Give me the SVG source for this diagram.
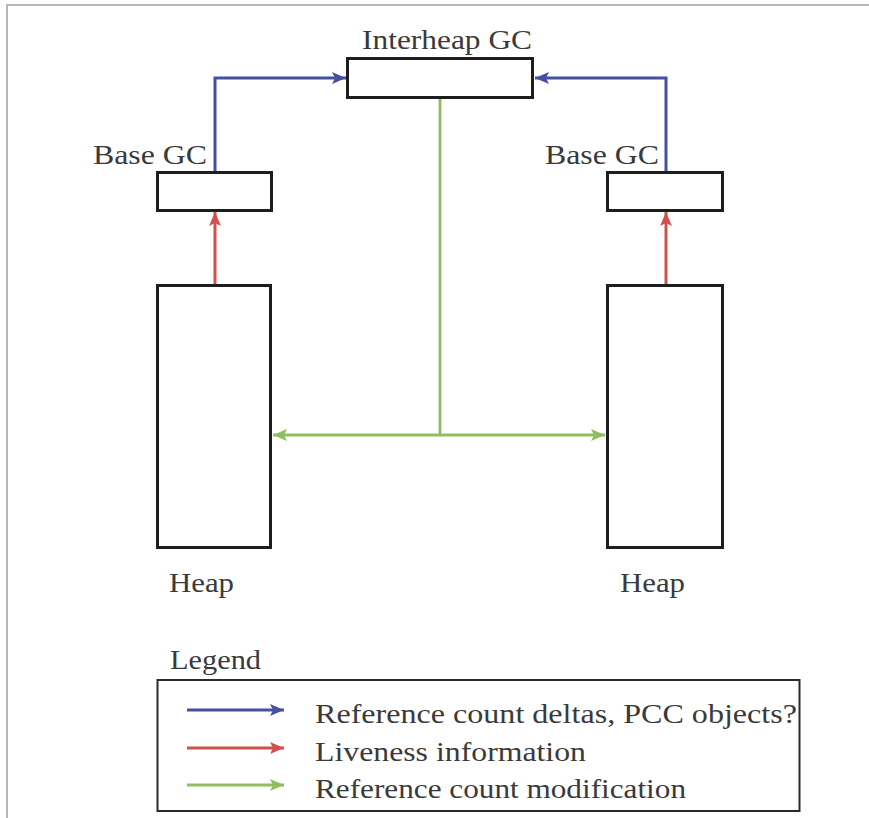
<svg xmlns="http://www.w3.org/2000/svg" width="869" height="818" viewBox="0 0 869 818">
  <style>
    .box { fill: #ffffff; stroke: #1e1e1e; stroke-width: 3; }
    .blue { stroke: #4650a0; stroke-width: 3; fill: none; }
    .red { stroke: #d2504c; stroke-width: 3; fill: none; }
    .green { stroke: #8dbf5e; stroke-width: 2.8; fill: none; }
  </style>
  <defs>
    <marker id="hb" viewBox="0 0 14 12" refX="14" refY="6" markerWidth="14" markerHeight="12" markerUnits="userSpaceOnUse" orient="auto-start-reverse">
      <path d="M0,0 L14,6 L0,12 L3,6 Z" fill="#4650a0"/>
    </marker>
    <marker id="hr" viewBox="0 0 14 12" refX="14" refY="6" markerWidth="14" markerHeight="12" markerUnits="userSpaceOnUse" orient="auto-start-reverse">
      <path d="M0,0 L14,6 L0,12 L3,6 Z" fill="#d2504c"/>
    </marker>
    <marker id="hg" viewBox="0 0 14 12" refX="14" refY="6" markerWidth="14" markerHeight="12" markerUnits="userSpaceOnUse" orient="auto-start-reverse">
      <path d="M0,0 L14,6 L0,12 L3,6 Z" fill="#8dbf5e"/>
    </marker>
  </defs>

  <rect width="869" height="818" fill="#ffffff"/>
  <path d="M7,818 L7,5 L869,5" fill="none" stroke="#a0a0a0" stroke-width="1.5"/>

  <g id="connectors">
    <path class="blue" d="M215,172 L215,78 L346,78" marker-end="url(#hb)"/>
    <path class="blue" d="M666,172 L666,78 L535,78" marker-end="url(#hb)"/>
    <path class="red" d="M215,285 L215,212" marker-end="url(#hr)"/>
    <path class="red" d="M666,285 L666,212" marker-end="url(#hr)"/>
    <path class="green" d="M440,98 L440,435"/>
    <path class="green" d="M273,435 L605,435" marker-start="url(#hg)" marker-end="url(#hg)"/>
  </g>

  <g font-family="Liberation Serif, Times New Roman, serif" font-size="28" fill="#3a3a3a">
  <g id="interheap-gc">
    <rect class="box" x="347.5" y="58.5" width="185" height="39"/>
    <text x="362" y="49" textLength="170" lengthAdjust="spacingAndGlyphs">Interheap GC</text>
  </g>

  <g id="base-gc-left">
    <rect class="box" x="157.5" y="172.5" width="114" height="38"/>
    <text x="93" y="164" textLength="114" lengthAdjust="spacingAndGlyphs">Base GC</text>
  </g>

  <g id="base-gc-right">
    <rect class="box" x="607.5" y="172.5" width="115" height="38"/>
    <text x="545" y="164" textLength="114" lengthAdjust="spacingAndGlyphs">Base GC</text>
  </g>

  <g id="heap-left">
    <rect class="box" x="157.5" y="285.5" width="113" height="262"/>
    <text x="169" y="592" textLength="65" lengthAdjust="spacingAndGlyphs">Heap</text>
  </g>

  <g id="heap-right">
    <rect class="box" x="607.5" y="285.5" width="115" height="262"/>
    <text x="620" y="592" textLength="65" lengthAdjust="spacingAndGlyphs">Heap</text>
  </g>

  <g id="legend">
    <text x="170" y="669" textLength="91" lengthAdjust="spacingAndGlyphs">Legend</text>
    <rect x="157.5" y="680" width="642" height="131" fill="none" stroke="#2a2a2a" stroke-width="2"/>
    <path class="blue" d="M187,710 L284,710" marker-end="url(#hb)"/>
    <path class="red" d="M187,748 L284,748" marker-end="url(#hr)"/>
    <path class="green" d="M187,785 L284,785" marker-end="url(#hg)"/>
    <text x="315" y="723" textLength="482" lengthAdjust="spacingAndGlyphs">Reference count deltas, PCC objects?</text>
    <text x="315" y="761" textLength="271" lengthAdjust="spacingAndGlyphs">Liveness information</text>
    <text x="315" y="798" textLength="371" lengthAdjust="spacingAndGlyphs">Reference count modification</text>
  </g>
  </g>
</svg>
